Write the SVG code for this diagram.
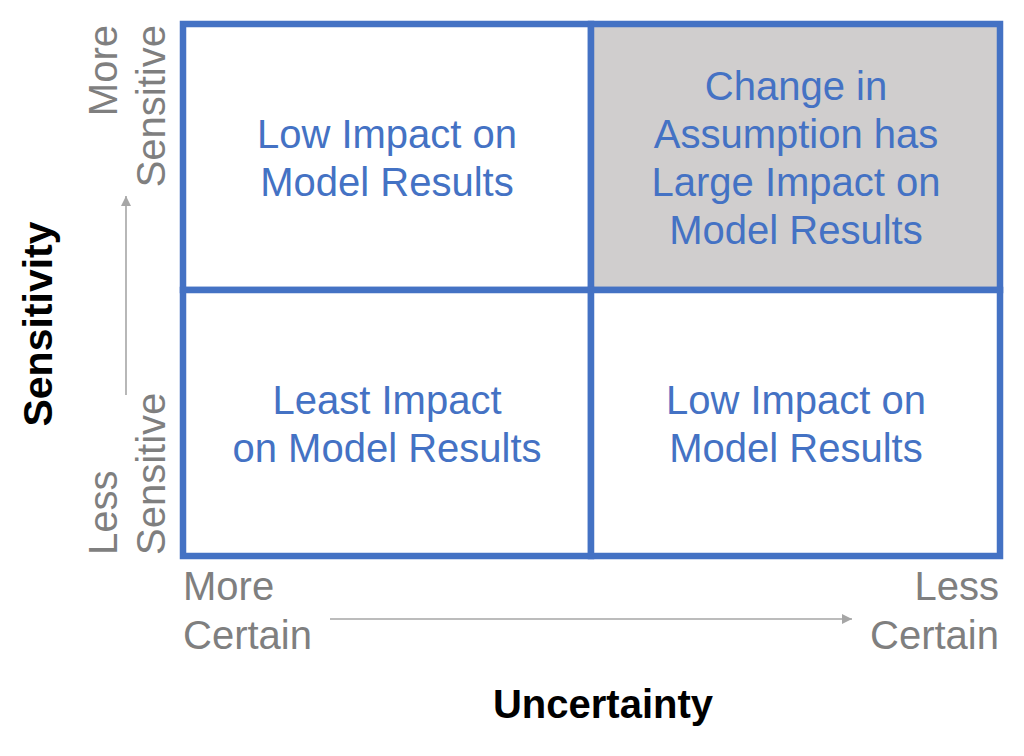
<svg xmlns="http://www.w3.org/2000/svg" width="1024" height="756" viewBox="0 0 1024 756">
<style>
.cell{fill:#ffffff;stroke:#4472C4;stroke-width:6.5}
.hi{fill:#D0CECE}
.ct{font-family:"Liberation Sans",Arial,sans-serif;font-size:40px;fill:#4472C4;text-anchor:middle}
.ax{font-family:"Liberation Sans",Arial,sans-serif;font-size:40px;fill:#7F7F7F}
.tt{font-family:"Liberation Sans",Arial,sans-serif;font-size:40px;font-weight:bold;fill:#000000;text-anchor:middle}
.arr{stroke:#A6A6A6;stroke-width:1.6;fill:none}
</style>
<defs>
<marker id="ah" viewBox="0 0 10 10" refX="10" refY="5" markerWidth="10" markerHeight="10" markerUnits="userSpaceOnUse" orient="auto">
<path d="M0,0 L10,5 L0,10 Z" fill="#A6A6A6"/>
</marker>
</defs>
<rect width="1024" height="756" fill="#ffffff"/>
<g id="cell-top-left">
<rect class="cell" x="183" y="24" width="408" height="266"/>
<text class="ct" x="387" y="148">Low Impact on</text>
<text class="ct" x="387" y="196">Model Results</text>
</g>
<g id="cell-top-right">
<rect class="cell hi" x="591" y="24" width="409" height="266"/>
<text class="ct" x="796" y="100">Change in</text>
<text class="ct" x="796" y="148">Assumption has</text>
<text class="ct" x="796" y="196">Large Impact on</text>
<text class="ct" x="796" y="244">Model Results</text>
</g>
<g id="cell-bottom-left">
<rect class="cell" x="183" y="290" width="408" height="266"/>
<text class="ct" x="387" y="414">Least Impact</text>
<text class="ct" x="387" y="462">on Model Results</text>
</g>
<g id="cell-bottom-right">
<rect class="cell" x="591" y="290" width="409" height="266"/>
<text class="ct" x="796" y="414">Low Impact on</text>
<text class="ct" x="796" y="462">Model Results</text>
</g>
<g id="connectors">
<line class="arr" x1="330" y1="619" x2="852" y2="619" marker-end="url(#ah)"/>
<line class="arr" x1="126" y1="395" x2="126" y2="196" marker-end="url(#ah)"/>
</g>
<g id="axis-labels">
<text class="ax" x="183" y="600">More</text>
<text class="ax" x="183" y="649">Certain</text>
<text class="ax" x="999" y="600" text-anchor="end">Less</text>
<text class="ax" x="999" y="649" text-anchor="end">Certain</text>
<text class="ax" transform="translate(117,25) rotate(-90)" text-anchor="end">More</text>
<text class="ax" transform="translate(165,25) rotate(-90)" text-anchor="end">Sensitive</text>
<text class="ax" transform="translate(117,555) rotate(-90)">Less</text>
<text class="ax" transform="translate(165,555) rotate(-90)">Sensitive</text>
</g>
<g id="titles">
<text class="tt" x="603" y="718">Uncertainty</text>
<text class="tt" transform="translate(52,324) rotate(-90)" style="font-size:41px">Sensitivity</text>
</g>
</svg>
